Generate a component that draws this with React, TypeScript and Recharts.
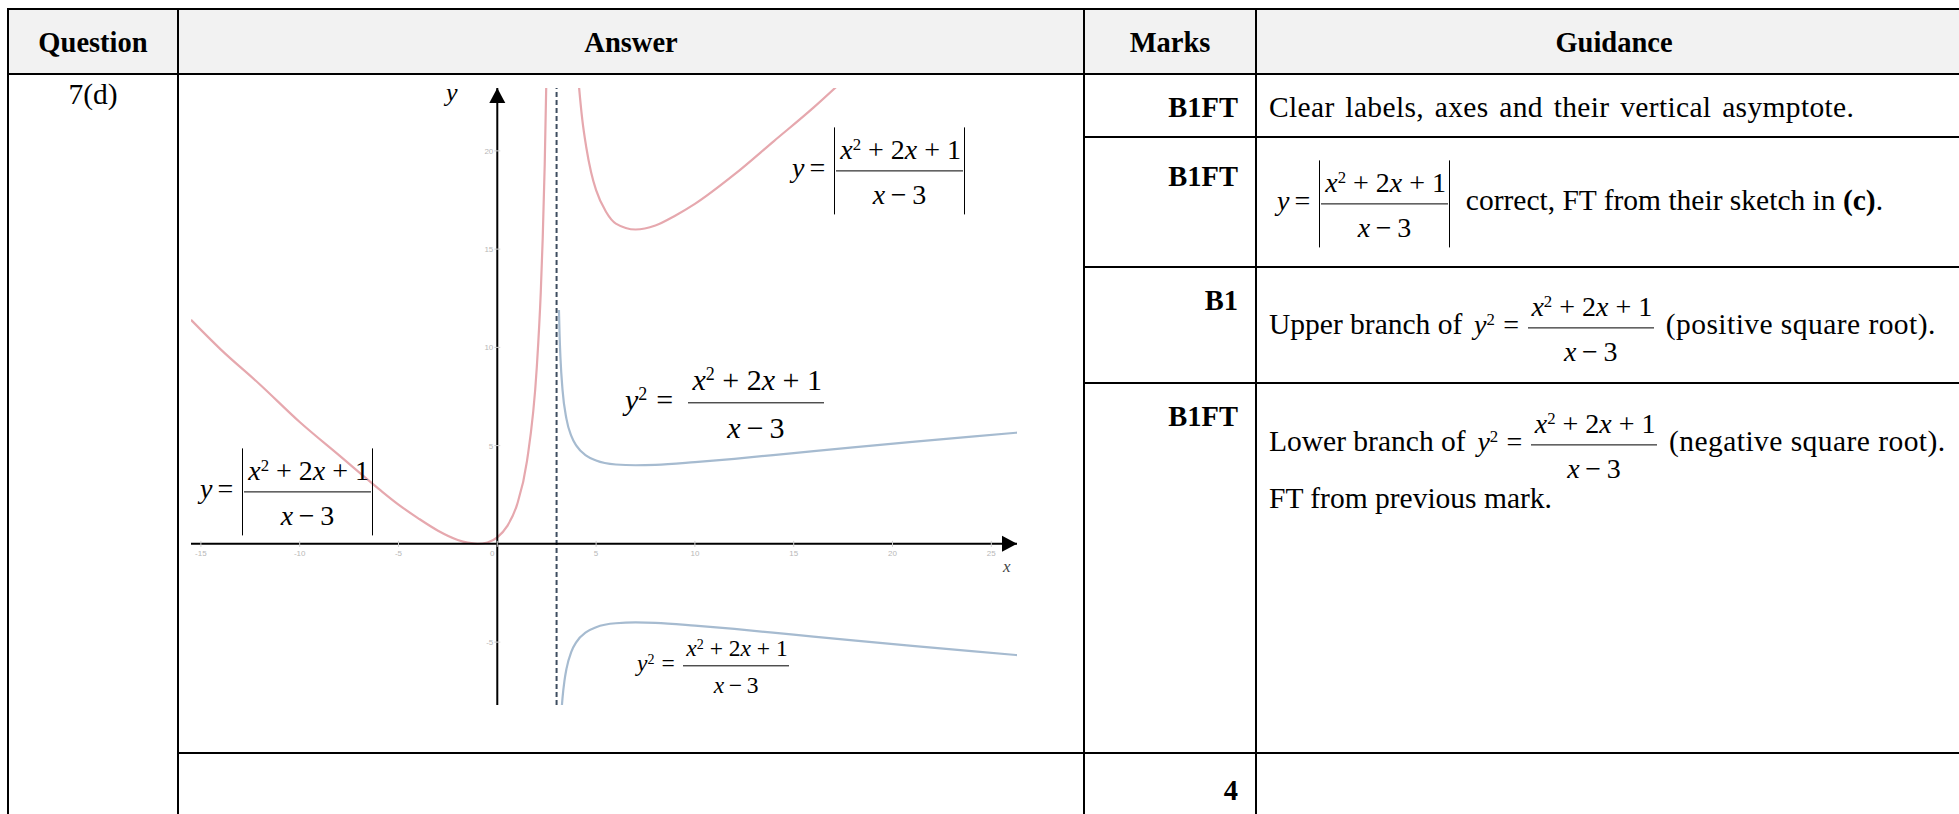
import React from 'react';
import { LineChart, Line, XAxis, YAxis, ReferenceLine, ReferenceDot } from 'recharts';

const FONT = "'Liberation Serif','Times New Roman',Times,serif";

// ---- table content ----
const headers = ['Question', 'Answer', 'Marks', 'Guidance'];
const questionLabel = '7(d)';
const marks = ['B1FT', 'B1FT', 'B1', 'B1FT'];
const totalMarks = '4';

// ---- chart axes ----
const xTicks = [-15, -10, -5, 0, 5, 10, 15, 20, 25];
const yTicks = [20, 15, 10, 5, -5];
const xDomain: [number, number] = [-15.5, 26.3];
const yDomain: [number, number] = [-8.2, 23.2];
const asymptoteX = 3;

// ---- series ----
// y = |(x^2+2x+1)/(x-3)|, left of asymptote
const absLeftX = [-15.5, -14, -12, -10, -8, -6, -5, -4, -3, -2, -1.5, -1, -0.5, 0, 0.5, 1, 1.5, 2, 2.2, 2.3, 2.4, 2.5, 2.56];
const absLeftY = [11.4, 9.9, 8.1, 6.2, 4.5, 2.8, 2.0, 1.3, 0.67, 0.2, 0.06, 0, 0.07, 0.33, 0.9, 2.0, 4.2, 9.0, 12.8, 15.6, 19.3, 24.5, 28.8];
// y = |(x^2+2x+1)/(x-3)|, right of asymptote
const absRightX = [4.05, 4.15, 4.3, 4.5, 4.75, 5, 5.5, 6, 7, 8, 9, 10, 12, 14, 16, 17.2];
const absRightY = [24.3, 23.1, 21.6, 20.2, 18.9, 18.0, 16.9, 16.3, 16.0, 16.2, 16.7, 17.3, 18.8, 20.5, 22.2, 23.3];
// y^2 = (x^2+2x+1)/(x-3), upper branch
const rootUpperX = [3.12, 3.15, 3.2, 3.3, 3.5, 3.75, 4, 4.5, 5, 6, 7, 8, 10, 12, 15, 18, 21, 24, 26.3];
const rootUpperY = [11.9, 10.7, 9.4, 7.85, 6.36, 5.48, 5.0, 4.49, 4.24, 4.04, 4.0, 4.02, 4.16, 4.33, 4.62, 4.91, 5.19, 5.46, 5.66];
// y^2 = (x^2+2x+1)/(x-3), lower branch
const rootLowerX = [3.24, 3.27, 3.3, 3.4, 3.5, 3.75, 4, 4.5, 5, 6, 7, 8, 10, 12, 15, 18, 21, 24, 26.3];
const rootLowerY = [-8.65, -8.22, -7.85, -6.96, -6.36, -5.48, -5.0, -4.49, -4.24, -4.04, -4.0, -4.02, -4.16, -4.33, -4.62, -4.91, -5.19, -5.46, -5.66];

const toPts = (xs: number[], ys: number[]) => xs.map((x, i) => ({ x, y: ys[i] }));
const absLeft = toPts(absLeftX, absLeftY);
const absRight = toPts(absRightX, absRightY);
const rootUpper = toPts(rootUpperX, rootUpperY);
const rootLower = toPts(rootLowerX, rootLowerY);

const RED = '#e6a8ae';
const BLUE = '#a6bbd0';
const ASYM = '#3e4d60';

// ---- math helpers ----
const Sup = ({ c }: { c: string }) => (
  <sup style={{ fontSize: '0.6em', verticalAlign: '0.55em', lineHeight: 0 }}>{c}</sup>
);
const Num = () => (
  <>
    <i>x</i>
    <Sup c="2" />
    <span style={{ margin: '0 0.25em' }}>+</span>
    <span>2</span>
    <i>x</i>
    <span style={{ margin: '0 0.25em' }}>+</span>
    <span>1</span>
  </>
);
const Den = () => (
  <>
    <i>x</i>
    <span style={{ margin: '0 0.2em' }}>{'\u2212'}</span>
    <span>3</span>
  </>
);

function Frac({ s }: { s: number }) {
  const lh = 1.4 * s;
  const bw = Math.max(1.2, s / 20);
  return (
    <span style={{ display: 'inline-flex', flexDirection: 'column', fontSize: s, lineHeight: `${lh}px` }}>
      <span
        style={{
          paddingTop: 0.11 * s,
          paddingBottom: 0.03 * s,
          paddingLeft: 0.14 * s,
          paddingRight: 0.06 * s,
          borderBottom: `${bw}px solid #000`,
          textAlign: 'center',
          whiteSpace: 'nowrap',
        }}
      >
        <Num />
      </span>
      <span style={{ paddingTop: 0.14 * s, textAlign: 'center', whiteSpace: 'nowrap' }}>
        <Den />
      </span>
    </span>
  );
}

function Abs({ s, children }: { s: number; children: React.ReactNode }) {
  const bw = Math.max(1.2, s / 20);
  return (
    <span
      style={{
        display: 'inline-flex',
        borderLeft: `${bw}px solid #000`,
        borderRight: `${bw}px solid #000`,
        paddingLeft: 0.06 * s,
        paddingRight: 0.03 * s,
        marginLeft: 0.3 * s,
      }}
    >
      {children}
    </span>
  );
}

function Tx({ size, children, style }: { size: number; children: React.ReactNode; style?: React.CSSProperties }) {
  return (
    <span style={{ fontSize: size, lineHeight: 1, paddingBottom: '0.18em', whiteSpace: 'pre', ...style }}>{children}</span>
  );
}

function MathRow({ x, barY, s, children }: { x: number; barY: number; s: number; children: React.ReactNode }) {
  return (
    <div
      style={{
        position: 'absolute',
        left: x,
        top: barY,
        transform: 'translateY(-50%)',
        display: 'flex',
        alignItems: 'center',
        fontFamily: FONT,
        fontSize: s,
        whiteSpace: 'nowrap',
        color: '#000',
      }}
    >
      {children}
    </div>
  );
}

const AbsFormula = ({ s }: { s: number }) => (
  <>
    <Tx size={s}>
      <i>y</i>
      <span style={{ margin: '0 0 0 0.18em' }}>=</span>
    </Tx>
    <Abs s={s}>
      <Frac s={s} />
    </Abs>
  </>
);

const SqFormula = ({ s, gap }: { s: number; gap: number }) => (
  <>
    <Tx size={s}>
      <i>y</i>
      <Sup c="2" />
      <span style={{ margin: `0 ${gap}em 0 0.3em` }}>=</span>
    </Tx>
    <Frac s={s} />
  </>
);

// ---- text helpers ----
function TextAt({
  x,
  baseline,
  size,
  bold,
  align = 'left',
  style: extra,
  children,
}: {
  x: number;
  baseline: number;
  size: number;
  bold?: boolean;
  align?: 'left' | 'right' | 'center';
  style?: React.CSSProperties;
  children: React.ReactNode;
}) {
  const top = baseline - 0.8375 * size;
  const style: React.CSSProperties = {
    position: 'absolute',
    top,
    fontFamily: FONT,
    fontSize: size,
    lineHeight: 1,
    fontWeight: bold ? 'bold' : 'normal',
    whiteSpace: 'pre',
    color: '#000',
    ...extra,
  };
  if (align === 'left') style.left = x;
  if (align === 'right') style.right = 1959 - x;
  if (align === 'center') {
    style.left = x;
    style.transform = 'translateX(-50%)';
  }
  return <div style={style}>{children}</div>;
}

// ---- table geometry ----
const L = 8;
const T = 9;
const HB = 74;
const C1 = 178;
const C2 = 1084;
const C3 = 1256;
const R = 1972;
const rowLinesMarks = [137, 267, 383];
const totalLine = 753;
const LW = 2;

const HLine = ({ y, x1, x2 }: { y: number; x1: number; x2: number }) => (
  <div style={{ position: 'absolute', left: x1 - LW / 2, top: y - LW / 2, width: x2 - x1 + LW, height: LW, background: '#000' }} />
);
const VLine = ({ x, y1, y2 }: { x: number; y1: number; y2: number }) => (
  <div style={{ position: 'absolute', left: x - LW / 2, top: y1 - LW / 2, width: LW, height: y2 - y1 + LW, background: '#000' }} />
);

const arrowRight = (p: any) => (
  <polygon points={`${p.cx},${p.cy} ${p.cx - 15},${p.cy - 8} ${p.cx - 15},${p.cy + 8}`} fill="#000" />
);
const arrowUp = (p: any) => (
  <polygon points={`${p.cx},${p.cy} ${p.cx - 8},${p.cy + 15} ${p.cx + 8},${p.cy + 15}`} fill="#000" />
);

function Graph() {
  return (
    <div style={{ position: 'absolute', left: 181, top: 78 }}>
      <LineChart width={850} height={640} margin={{ top: 10, right: 14, bottom: 13, left: 10 }}>
        <XAxis type="number" dataKey="x" domain={xDomain} allowDataOverflow hide />
        <YAxis type="number" domain={yDomain} allowDataOverflow hide />
        {xTicks.map((t) => (
          <ReferenceDot
            key={'xt' + t}
            x={t}
            y={0}
            r={1}
            ifOverflow="visible"
            shape={(p: any) => (
              <g>
                <line x1={p.cx} x2={p.cx} y1={p.cy - 3} y2={p.cy + 3} stroke="#d0d0d0" strokeWidth={1} />
                <text
                  x={p.cx + (t === 0 ? -5 : 0)}
                  y={p.cy + 12}
                  fontSize={8}
                  fill="#b8b8b8"
                  textAnchor="middle"
                  fontFamily="'Liberation Sans', Arial, sans-serif"
                >
                  {t}
                </text>
              </g>
            )}
          />
        ))}
        {yTicks.map((t) => (
          <ReferenceDot
            key={'yt' + t}
            x={0}
            y={t}
            r={1}
            ifOverflow="visible"
            shape={(p: any) => (
              <g>
                <line x1={p.cx - 3} x2={p.cx + 3} y1={p.cy} y2={p.cy} stroke="#d0d0d0" strokeWidth={1} />
                <text
                  x={p.cx - 4}
                  y={p.cy + 3}
                  fontSize={8}
                  fill="#b8b8b8"
                  textAnchor="end"
                  fontFamily="'Liberation Sans', Arial, sans-serif"
                >
                  {t}
                </text>
              </g>
            )}
          />
        ))}
        <Line data={absLeft} dataKey="y" type="monotone" stroke={RED} strokeWidth={2.2} dot={false} isAnimationActive={false} />
        <Line data={absRight} dataKey="y" type="monotone" stroke={RED} strokeWidth={2.2} dot={false} isAnimationActive={false} />
        <Line data={rootUpper} dataKey="y" type="monotone" stroke={BLUE} strokeWidth={2.2} dot={false} isAnimationActive={false} />
        <Line data={rootLower} dataKey="y" type="monotone" stroke={BLUE} strokeWidth={2.2} dot={false} isAnimationActive={false} />
        <ReferenceLine x={asymptoteX} stroke={ASYM} strokeWidth={2} strokeDasharray="5 3" ifOverflow="visible" />
        <ReferenceLine y={0} stroke="#000" strokeWidth={2} ifOverflow="visible" />
        <ReferenceLine x={0} stroke="#000" strokeWidth={2} ifOverflow="visible" />
        <ReferenceDot x={xDomain[1]} y={0} r={1} ifOverflow="visible" shape={arrowRight} />
        <ReferenceDot x={0} y={yDomain[1]} r={1} ifOverflow="visible" shape={arrowUp} />
      </LineChart>
    </div>
  );
}

export default function App() {
  const BODY = 29.5;
  const HEAD = 28.5;
  const markBaselines = [118, 187, 311, 427];
  const paren: React.CSSProperties = { marginLeft: 0.4 * BODY, letterSpacing: 0.45 };
  return (
    <div
      style={{
        position: 'absolute',
        left: 0,
        top: 0,
        width: 1959,
        height: 814,
        overflow: 'hidden',
        background: '#fff',
        fontFamily: FONT,
      }}
    >
      {/* header background */}
      <div style={{ position: 'absolute', left: L, top: T, width: R - L, height: HB - T, background: '#f2f2f2' }} />

      <Graph />

      {/* grid lines */}
      <HLine y={T} x1={L} x2={R} />
      <HLine y={HB} x1={L} x2={R} />
      {rowLinesMarks.map((y) => (
        <HLine key={y} y={y} x1={C2} x2={R} />
      ))}
      <HLine y={totalLine} x1={C1} x2={R} />
      <VLine x={L} y1={T} y2={830} />
      <VLine x={C1} y1={T} y2={830} />
      <VLine x={C2} y1={T} y2={830} />
      <VLine x={C3} y1={T} y2={830} />

      {/* header text */}
      <TextAt x={(L + C1) / 2} baseline={53} size={HEAD} bold align="center">{headers[0]}</TextAt>
      <TextAt x={(C1 + C2) / 2} baseline={53} size={HEAD} bold align="center">{headers[1]}</TextAt>
      <TextAt x={(C2 + C3) / 2} baseline={53} size={HEAD} bold align="center">{headers[2]}</TextAt>
      <TextAt x={(C3 + R) / 2} baseline={53} size={HEAD} bold align="center">{headers[3]}</TextAt>

      <TextAt x={(L + C1) / 2} baseline={105} size={BODY} align="center">{questionLabel}</TextAt>

      {/* marks */}
      {marks.map((m, i) => (
        <TextAt key={i} x={1238} baseline={markBaselines[i]} size={HEAD} bold align="right">{m}</TextAt>
      ))}
      <TextAt x={1238} baseline={801} size={HEAD} bold align="right">{totalMarks}</TextAt>

      {/* guidance */}
      <TextAt x={1269} baseline={118} size={BODY} style={{ wordSpacing: 3, letterSpacing: 0.35 }}>
        Clear labels, axes and their vertical asymptote.
      </TextAt>
      <MathRow x={1277} barY={204} s={28}>
        <AbsFormula s={28} />
        <Tx size={BODY} style={{ marginLeft: 0.55 * BODY }}>
          {'correct, FT from their sketch in '}
          <b>(c)</b>.
        </Tx>
      </MathRow>
      <MathRow x={1269} barY={328} s={28}>
        <Tx size={BODY} style={{ marginRight: 0.4 * BODY }}>{'Upper branch of'}</Tx>
        <SqFormula s={28} gap={0.3} />
        <Tx size={BODY} style={paren}>(positive square root).</Tx>
      </MathRow>
      <MathRow x={1269} barY={445} s={28}>
        <Tx size={BODY} style={{ marginRight: 0.4 * BODY }}>{'Lower branch of'}</Tx>
        <SqFormula s={28} gap={0.3} />
        <Tx size={BODY} style={paren}>(negative square root).</Tx>
      </MathRow>
      <TextAt x={1269} baseline={509} size={BODY}>FT from previous mark.</TextAt>

      {/* chart labels */}
      <TextAt x={446} baseline={102} size={26}>
        <i>y</i>
      </TextAt>
      <div
        style={{
          position: 'absolute',
          left: 1003,
          top: 558,
          fontFamily: FONT,
          fontStyle: 'italic',
          fontSize: 17,
          lineHeight: 1,
          color: '#444',
        }}
      >
        x
      </div>
      <MathRow x={200} barY={492} s={28}>
        <AbsFormula s={28} />
      </MathRow>
      <MathRow x={792} barY={171} s={28}>
        <AbsFormula s={28} />
      </MathRow>
      <MathRow x={625} barY={403} s={30}>
        <SqFormula s={30} gap={0.5} />
      </MathRow>
      <MathRow x={637} barY={666} s={23.5}>
        <SqFormula s={23.5} gap={0.35} />
      </MathRow>
    </div>
  );
}
